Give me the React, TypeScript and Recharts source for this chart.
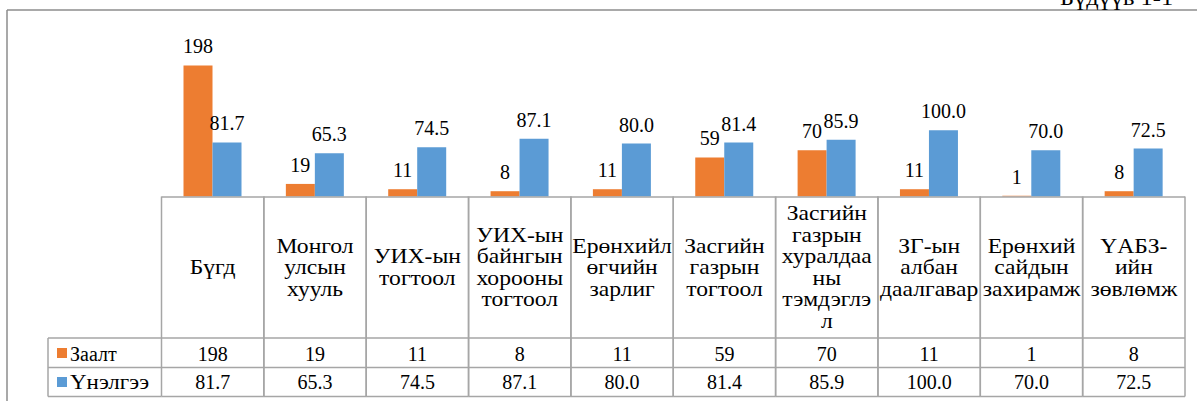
import { BarChart, Bar, XAxis, YAxis, LabelList, Customized } from "recharts";

const categories = [
  "Бүгд",
  "Монгол\nулсын\nхууль",
  "УИХ-ын\nтогтоол",
  "УИХ-ын\nбайнгын\nхорооны\nтогтоол",
  "Ерөнхийл\nөгчийн\nзарлиг",
  "Засгийн\nгазрын\nтогтоол",
  "Засгийн\nгазрын\nхуралдаа\nны\nтэмдэглэ\nл",
  "ЗГ-ын\nалбан\nдаалгавар",
  "Ерөнхий\nсайдын\nзахирамж",
  "ҮАБЗ-\nийн\nзөвлөмж",
];
const zaalt = [198, 19, 11, 8, 11, 59, 70, 11, 1, 8];
const unelgee = [81.7, 65.3, 74.5, 87.1, 80.0, 81.4, 85.9, 100.0, 70.0, 72.5];
const seriesNames = ["Заалт", "Үнэлгээ"];
const caption = "Бүдүүв 1-1";

const ORANGE = "#ED7D31";
const BLUE = "#5B9BD5";
const GRID = "#a6a6a6";
const FONT = "'Times New Roman', 'Liberation Serif', serif";
const txt = { fontFamily: FONT, fontSize: 20 };
const WIDE = 1.18; // the cyrillic in the source is set wider than Liberation Serif

const W = 1197;
const H = 401;
const M = { top: 31, right: 12, left: 161.5, bottom: 0 };
const BAND = (W - M.left - M.right) / categories.length;

const data = categories.map((name, i) => ({ name, zaalt: zaalt[i], unelgee: unelgee[i] }));

const Wide = ({ x, y, anchor = "start", k = WIDE, children }: any) => (
  <text transform={`translate(${x},${y}) scale(${k},1)`} textAnchor={anchor} fill="#000" style={txt}>
    {children}
  </text>
);

// each x tick draws one column of the data table
const TableTick = (props: any) => {
  const { x, y, payload, index } = props;
  const left = x - BAND / 2;
  const right = x + BAND / 2;
  const lines = String(payload.value).split("\n");
  const lh = 21.5;
  const first = y + 70.5 + 7 - ((lines.length - 1) * lh) / 2;
  return (
    <g>
      <line x1={left} x2={right} y1={y + 0.5} y2={y + 0.5} stroke={GRID} strokeWidth={1.5} />
      <line x1={left} x2={left} y1={y} y2={y + 200} stroke={GRID} strokeWidth={1.5} />
      <line x1={right} x2={right} y1={y} y2={y + 200} stroke={GRID} strokeWidth={1.5} />
      <line x1={left} x2={right} y1={y + 141.5} y2={y + 141.5} stroke={GRID} strokeWidth={1.5} />
      <line x1={left} x2={right} y1={y + 171} y2={y + 171} stroke={GRID} strokeWidth={1.5} />
      <line x1={left} x2={right} y1={y + 200} y2={y + 200} stroke={GRID} strokeWidth={1.5} />
      {lines.map((l, i) => (
        <Wide key={i} x={x} y={first + i * lh} anchor="middle">
          {l}
        </Wide>
      ))}
      <text x={x} y={y + 164} textAnchor="middle" fill="#000" style={txt}>
        {zaalt[index]}
      </text>
      <text x={x} y={y + 192.5} textAnchor="middle" fill="#000" style={txt}>
        {unelgee[index].toFixed(1)}
      </text>
    </g>
  );
};

const Extras = () => {
  const top = 196.5 + 141.5;
  return (
    <g>
      <line x1={7} x2={W} y1={10} y2={10} stroke="#8c8c8c" strokeWidth={1.5} />
      <line x1={7} x2={7} y1={10} y2={H} stroke="#8c8c8c" strokeWidth={1.5} />
      <Wide x={1060} y={5} k={1.22}>{caption}</Wide>
      <line x1={48} x2={M.left} y1={top} y2={top} stroke={GRID} strokeWidth={1.5} />
      <line x1={48} x2={M.left} y1={top + 29.5} y2={top + 29.5} stroke={GRID} strokeWidth={1.5} />
      <line x1={48} x2={M.left} y1={top + 58.5} y2={top + 58.5} stroke={GRID} strokeWidth={1.5} />
      <line x1={48} x2={48} y1={top} y2={top + 58.5} stroke={GRID} strokeWidth={1.5} />
      <rect x={57} y={348} width={10} height={10} fill={ORANGE} />
      <Wide x={70} y={360.5} k={1.0}>{seriesNames[0]}</Wide>
      <rect x={57} y={377} width={10} height={10} fill={BLUE} />
      <Wide x={70} y={389} k={1.15}>{seriesNames[1]}</Wide>
    </g>
  );
};

export default function App() {
  return (
    <div style={{ position: "absolute", left: 0, top: 0, width: W, height: H, background: "#fff", fontFamily: FONT }}>
      <BarChart width={W} height={H} data={data} margin={M} barGap={0} style={{ fontFamily: FONT }}>
        <XAxis
          dataKey="name"
          interval={0}
          height={204.5}
          axisLine={false}
          tickLine={false}
          tickSize={0}
          tickMargin={0}
          tick={<TableTick />}
        />
        <YAxis hide domain={[0, 250]} />
        <Bar dataKey="zaalt" fill={ORANGE} barSize={29} isAnimationActive={false}>
          <LabelList dataKey="zaalt" position="top" offset={12} fill="#000" style={txt} />
        </Bar>
        <Bar dataKey="unelgee" fill={BLUE} barSize={29} isAnimationActive={false}>
          <LabelList
            dataKey="unelgee"
            position="top"
            offset={12}
            fill="#000"
            style={txt}
            formatter={(v: any) => Number(v).toFixed(1)}
          />
        </Bar>
        <Customized component={<Extras />} />
      </BarChart>
    </div>
  );
}
